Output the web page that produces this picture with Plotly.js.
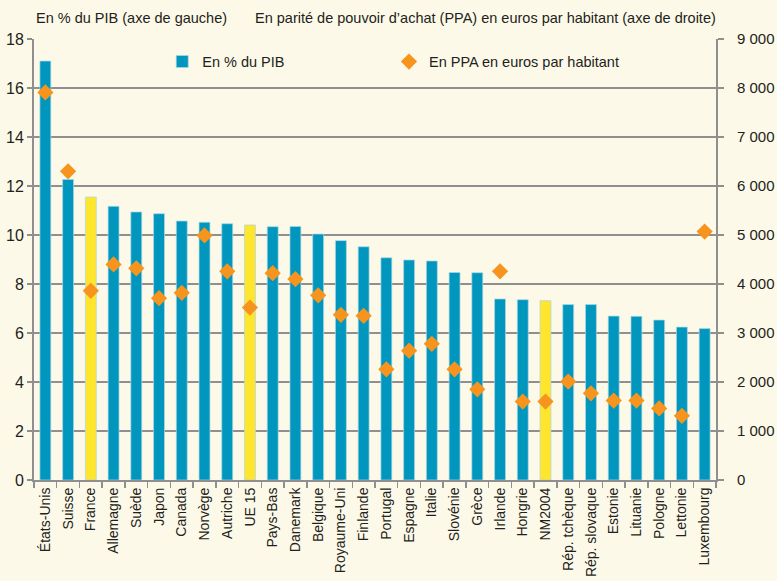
<!DOCTYPE html>
<html><head><meta charset="utf-8">
<script src="https://cdn.plot.ly/plotly-3.0.1.min.js"></script>
<style>html,body{margin:0;padding:0;background:#fdf9e9;}#chart{width:777px;height:581px;}</style>
</head><body><div id="chart"></div>
<script>
const countries = ["États-Unis","Suisse","France","Allemagne","Suède","Japon","Canada","Norvège","Autriche","UE 15","Pays-Bas","Danemark","Belgique","Royaume-Uni","Finlande","Portugal","Espagne","Italie","Slovénie","Grèce","Irlande","Hongrie","NM2004","Rép. tchèque","Rép. slovaque","Estonie","Lituanie","Pologne","Lettonie","Luxembourg"];
const pctPIB = [17.1,12.27,11.55,11.17,10.94,10.87,10.57,10.52,10.46,10.41,10.34,10.35,10.04,9.77,9.52,9.07,8.98,8.94,8.47,8.46,7.39,7.36,7.32,7.16,7.16,6.69,6.68,6.53,6.24,6.18];
const ppaHab = [7910,6300,3860,4400,4320,3710,3820,4990,4260,3520,4220,4100,3770,3370,3350,2260,2640,2780,2260,1850,4260,1600,1600,2010,1770,1620,1620,1460,1310,5070];
const highlighted = ["France","UE 15","NM2004"];

const FONT = "Liberation Sans, Arial, sans-serif";
const TXT = "#231f20";
const blue = "#0096bd", yellow = "#ffe52c", orange = "#f7941d", grid = "#8f8f8f";
const barColors = countries.map(c => highlighted.includes(c) ? yellow : blue);

const traces = [
  {type:"bar", name:"En % du PIB", x:countries, y:pctPIB,
   marker:{color:barColors, line:{color:"rgba(170,215,230,0.9)", width:0.8}},
   yaxis:"y", legend:"legend"},
  {type:"scatter", mode:"markers", name:"En PPA en euros par habitant", x:countries, y:ppaHab,
   marker:{symbol:"diamond", size:12.5, color:orange, line:{width:0}},
   yaxis:"y2", legend:"legend2"}
];

const legendFont = {family:FONT, size:14.5, color:TXT};
const layout = {
  width:777, height:581,
  paper_bgcolor:"#fdf9e9", plot_bgcolor:"#fdf9e9",
  margin:{l:34, r:61, t:39, b:101},
  font:{family:FONT, size:15, color:TXT},
  separators:", ",
  bargap:0.52,
  showlegend:true,
  legend:{orientation:"h", x:0.188, y:0.985, xanchor:"left", yanchor:"top",
          bgcolor:"rgba(0,0,0,0)", font:legendFont},
  legend2:{orientation:"h", x:0.5205, y:0.985, xanchor:"left", yanchor:"top",
          bgcolor:"rgba(0,0,0,0)", font:legendFont},
  xaxis:{type:"category", range:[-0.5, countries.length-0.5], autorange:false,
         showline:true, linecolor:grid, linewidth:2,
         ticks:"outside", tickson:"boundaries", ticklen:6, tickcolor:grid, tickwidth:1.5,
         tickangle:-90, tickfont:{family:FONT, size:14, color:TXT},
         showgrid:false, zeroline:false, automargin:false},
  yaxis:{range:[0,18], dtick:2, tick0:0, showline:true, linecolor:grid, linewidth:2,
         ticks:"outside", ticklen:5, tickcolor:grid, tickwidth:1.5,
         showgrid:true, gridcolor:grid, gridwidth:1.8, zeroline:false, automargin:false,
         tickfont:{family:FONT, size:16, color:TXT}},
  yaxis2:{range:[0,9000], dtick:1000, tick0:0, overlaying:"y", side:"right",
          showline:true, linecolor:grid, linewidth:2,
          ticks:"outside", ticklen:6, tickcolor:grid, tickwidth:1.5, ticklabelstandoff:10,
          tickformat:",d", showgrid:false, zeroline:false, automargin:false,
          tickfont:{family:FONT, size:15, color:TXT}},
  annotations:[
    {text:"En % du PIB (axe de gauche)", xref:"paper", yref:"paper", x:0, y:1, yshift:21,
     xanchor:"left", yanchor:"middle", showarrow:false, font:{family:FONT, size:14.5, color:TXT}},
    {text:"En parité de pouvoir d’achat (PPA) en euros par habitant (axe de droite)", xref:"paper", yref:"paper", x:1.003, y:1, yshift:21,
     xanchor:"right", yanchor:"middle", showarrow:false, font:{family:FONT, size:14.5, color:TXT}}
  ]
};
Plotly.newPlot("chart", traces, layout, {displayModeBar:false, staticPlot:true});
</script></body></html>
